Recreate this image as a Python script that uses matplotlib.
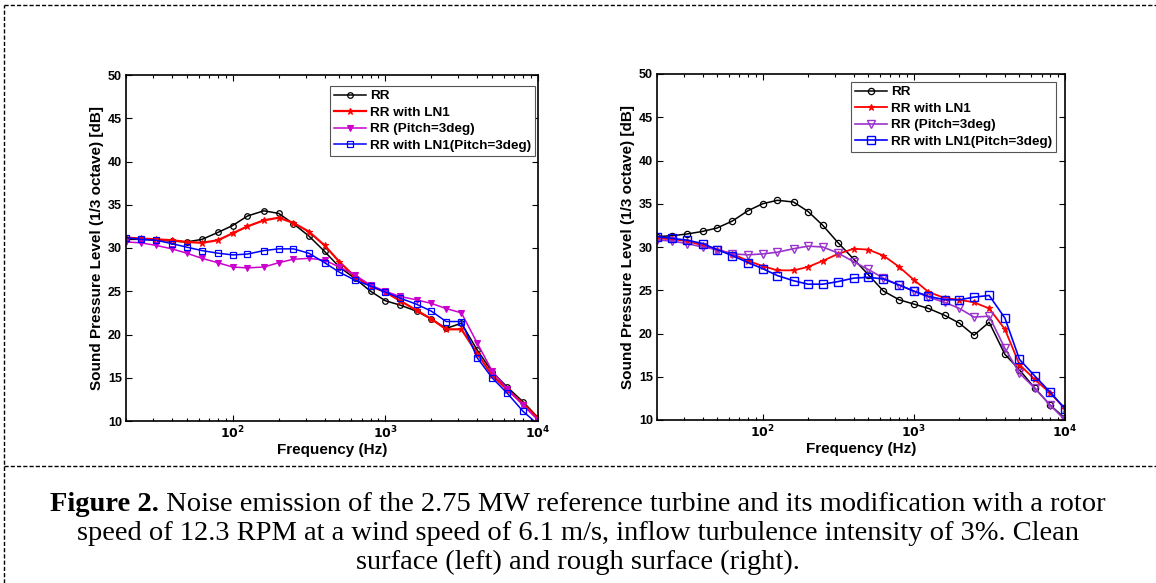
import numpy as np
import matplotlib
matplotlib.use("Agg")
import matplotlib.pyplot as plt
from matplotlib.lines import Line2D
from matplotlib.ticker import LogLocator, NullFormatter

# ---------------- data ----------------
freq = [20, 25, 31.5, 40, 50, 63, 80, 100, 125, 160, 200, 250, 315, 400, 500,
        630, 800, 1000, 1250, 1600, 2000, 2500, 3150, 4000, 5000, 6300, 8000, 10000]

series_labels = ["RR", "RR with LN1", "RR (Pitch=3deg)", "RR with LN1(Pitch=3deg)"]

# Clean surface (left)
left_rr = [31.0, 31.0, 30.9, 30.8, 30.7, 31.0, 31.8, 32.6, 33.7, 34.3, 34.0, 32.8, 31.4, 29.6,
           27.8, 26.5, 25.0, 23.9, 23.4, 22.7, 21.8, 20.7, 21.3, 18.2, 15.7, 13.9, 12.2, 10.4]
left_ln1 = [31.2, 31.1, 31.0, 30.9, 30.7, 30.6, 30.9, 31.7, 32.5, 33.2, 33.5, 32.9, 31.9, 30.3,
            28.4, 26.7, 25.6, 24.9, 23.9, 22.8, 21.8, 20.6, 20.6, 17.8, 15.3, 13.6, 12.0, 10.3]
left_pitch = [30.7, 30.6, 30.3, 29.9, 29.4, 28.8, 28.3, 27.8, 27.7, 27.8, 28.3, 28.7, 28.8, 28.6,
              27.8, 26.9, 25.7, 25.0, 24.4, 24.0, 23.6, 23.0, 22.5, 19.0, 15.8, 13.7, 11.8, 10.1]
left_ln1_pitch = [31.2, 31.0, 30.9, 30.5, 30.1, 29.7, 29.4, 29.2, 29.3, 29.7, 29.9, 29.9, 29.4, 28.3,
                  27.2, 26.3, 25.6, 24.9, 24.2, 23.5, 22.7, 21.5, 21.5, 17.3, 15.0, 13.2, 11.1, 9.6]

# Rough surface (right)
right_rr = [31.2, 31.3, 31.5, 31.8, 32.2, 33.0, 34.2, 35.0, 35.4, 35.2, 34.1, 32.5, 30.5, 28.6,
            26.8, 24.9, 23.9, 23.4, 22.9, 22.1, 21.2, 19.8, 21.3, 17.6, 15.8, 13.7, 11.7, 10.2]
right_ln1 = [31.0, 30.9, 30.7, 30.2, 29.7, 29.2, 28.4, 27.8, 27.3, 27.3, 27.7, 28.4, 29.2, 29.8,
             29.7, 29.0, 27.7, 26.2, 24.8, 24.1, 23.9, 23.6, 22.9, 20.5, 16.4, 14.7, 13.1, 11.3]
right_pitch = [30.8, 30.7, 30.4, 30.0, 29.7, 29.2, 29.1, 29.2, 29.4, 29.8, 30.1, 30.0, 29.3, 28.3,
               27.4, 26.4, 25.6, 24.9, 24.2, 23.6, 22.9, 21.9, 22.0, 18.3, 15.4, 13.7, 11.7, 10.0]
right_ln1_pitch = [31.2, 31.0, 30.8, 30.4, 29.7, 29.0, 28.2, 27.5, 26.7, 26.1, 25.7, 25.7, 26.0, 26.4,
                   26.5, 26.3, 25.6, 24.9, 24.3, 23.9, 23.9, 24.2, 24.4, 21.8, 17.0, 15.1, 13.2, 11.3]

caption_bold = "Figure 2."
caption_line1 = " Noise emission of the 2.75 MW reference turbine and its modification with a rotor"
caption_line2 = "speed of 12.3 RPM at a wind speed of 6.1 m/s, inflow turbulence intensity of 3%. Clean"
caption_line3 = "surface (left) and rough surface (right)."

# ---------------- figure ----------------
W, H = 1156, 583
fig = plt.figure(figsize=(W / 100, H / 100), dpi=100)
fig.patch.set_facecolor("white")

sans = "Liberation Sans"
serif = "Liberation Serif"


def px_rect(x0, x1, ytop, ybot):
    return [x0 / W, 1 - ybot / H, (x1 - x0) / W, (ybot - ytop) / H]


def style_axes(ax):
    ax.set_xscale("log")
    ax.set_xlim(20, 10000)
    ax.set_ylim(10, 50)
    ax.set_yticks(np.arange(10, 51, 5))
    ax.set_xticks([100, 1000, 10000])
    ax.set_xticklabels([r"$\mathbf{10^{2}}$", r"$\mathbf{10^{3}}$", r"$\mathbf{10^{4}}$"])
    ax.xaxis.set_minor_locator(LogLocator(base=10, subs=np.arange(2, 10), numticks=20))
    ax.xaxis.set_minor_formatter(NullFormatter())
    ax.tick_params(which="both", direction="in", top=True, right=True, labelsize=9, width=0.8)
    ax.tick_params(which="major", length=4.5, pad=3)
    ax.tick_params(which="minor", length=2.5)
    for lab in ax.get_yticklabels():
        lab.set_fontweight("bold")
        lab.set_family(sans)
    for sp in ax.spines.values():
        sp.set_linewidth(1.2)
        sp.set_color("black")
    ax.set_xlabel("Frequency (Hz)", fontsize=11, fontweight="bold", family=sans, labelpad=1)
    ax.set_ylabel("Sound Pressure Level (1/3 octave) [dB]", fontsize=11, fontweight="bold",
                  family=sans, labelpad=3)


def draw(ax, ys, styles, leg_anchor):
    handles = []
    for y, st, lab in zip(ys, styles, series_labels):
        (h,) = ax.plot(freq, y, label=lab, **st)
        handles.append(h)
    leg = ax.legend(handles=handles, loc="upper right", bbox_to_anchor=leg_anchor,
                    bbox_transform=fig.transFigure, borderaxespad=0, frameon=True, fancybox=False,
                    edgecolor="#555555", framealpha=1, handlelength=2.4, handletextpad=0.25,
                    labelspacing=0.3, borderpad=0.3,
                    prop={"family": sans, "weight": "bold", "size": 9.7})
    leg.get_frame().set_linewidth(0.8)


axL = fig.add_axes(px_rect(126, 538, 75, 421))
axR = fig.add_axes(px_rect(657, 1065, 74, 420))

stylesL = [
    dict(color="black", lw=1.1, marker="o", ms=4, mfc="none", mew=0.9),
    dict(color="#FF0000", lw=1.6, marker="*", ms=5, mew=0.8),
    dict(color="#CC00CC", lw=1.1, marker="v", ms=4, mew=0.8),
    dict(color="#0000FF", lw=1.1, marker="s", ms=5, mfc="none", mew=0.9),
]
stylesR = [
    dict(color="black", lw=1.1, marker="o", ms=4.5, mfc="none", mew=0.9),
    dict(color="#FF0000", lw=1.3, marker="*", ms=4.5, mew=0.8),
    dict(color="#9933CC", lw=1.2, marker="v", ms=6, mfc="none", mew=1.0),
    dict(color="#0000FF", lw=1.2, marker="s", ms=5.5, mfc="none", mew=1.0),
]

draw(axL, [left_rr, left_ln1, left_pitch, left_ln1_pitch], stylesL, (535 / W, 1 - 86 / H))
draw(axR, [right_rr, right_ln1, right_pitch, right_ln1_pitch], stylesR, (1056 / W, 1 - 82 / H))
style_axes(axL)
style_axes(axR)

# ---------------- dashed frame ----------------
dash = (0, (3, 1.5))
fig.add_artist(Line2D([4 / W, 1], [1 - 5 / H, 1 - 5 / H], transform=fig.transFigure,
                      color="black", lw=1, linestyle=dash))
fig.add_artist(Line2D([4 / W, 4 / W], [0, 1 - 5 / H], transform=fig.transFigure,
                      color="black", lw=1, linestyle=dash))
fig.add_artist(Line2D([4 / W, 1], [1 - 466 / H, 1 - 466 / H], transform=fig.transFigure,
                      color="black", lw=1, linestyle=dash))

# ---------------- caption ----------------
cap_size = 20.5
renderer = fig.canvas.get_renderer()
tb = fig.text(0, 0, caption_bold, fontsize=cap_size, family=serif, fontweight="bold")
tr = fig.text(0, 0, caption_line1, fontsize=cap_size, family=serif)
wb = tb.get_window_extent(renderer).width
wr = tr.get_window_extent(renderer).width
x_start = (W / 2 - (wb + wr) / 2)
base1 = 1 - 511 / H
tb.set_position((x_start / W, base1))
tr.set_position(((x_start + wb) / W, base1))
tb.set_va("baseline")
tr.set_va("baseline")
fig.text(0.5, 1 - 540 / H, caption_line2, fontsize=cap_size, family=serif, ha="center", va="baseline")
fig.text(0.5, 1 - 569 / H, caption_line3, fontsize=cap_size, family=serif, ha="center", va="baseline")

fig.savefig("out.png", dpi=100, facecolor="white")
